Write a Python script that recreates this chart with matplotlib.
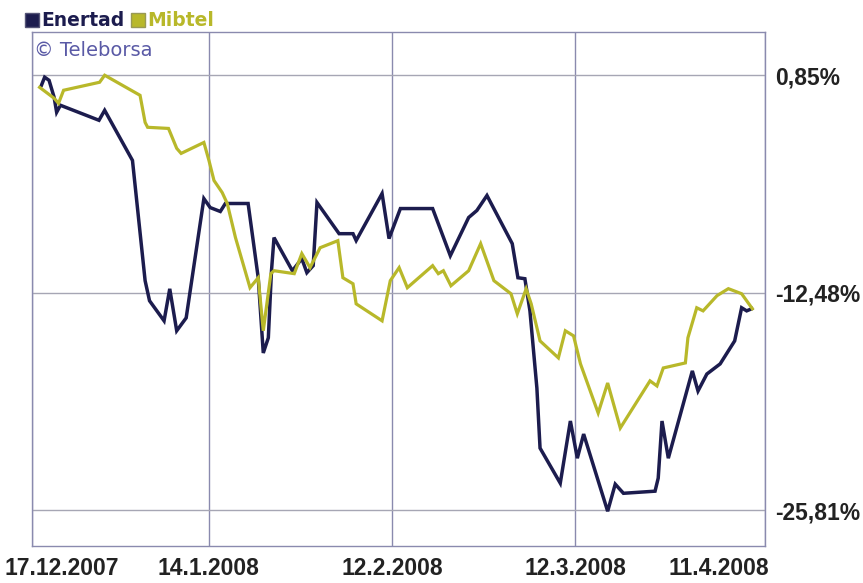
import pandas as pd
import matplotlib
matplotlib.use("Agg")
import matplotlib.pyplot as plt
import matplotlib.transforms as mtransforms
from matplotlib.lines import Line2D

START = pd.Timestamp("2007-12-17")

# day offsets from 17.12.2007 and % change
enertad_days = [1.5, 2.0, 2.7, 3.5, 3.9, 4.5, 10.6, 11.5, 15.9, 17.9, 18.6, 20.9, 21.8, 22.9,
                24.4, 27.2, 28.2, 29.8, 30.6, 34.2, 35.0, 35.8, 36.6, 37.4, 37.9, 38.3, 41.2,
                42.7, 43.5, 44.5, 45.1, 48.6, 50.8, 51.3, 55.4, 56.5, 58.3, 63.4, 66.2, 69.1,
                70.4, 72.0, 76.0, 76.9, 78.0, 78.8, 79.9, 80.4, 83.6, 85.2, 86.3, 87.3, 91.1,
                92.3, 93.6, 98.6, 99.1, 99.7, 100.7, 104.5, 105.4, 106.8, 108.9, 111.2, 112.3,
                113.1, 113.9]
enertad_pct = [0.24, 0.73, 0.54, -0.50, -1.42, -0.99, -1.91, -1.30, -4.37, -11.74, -12.97,
               -14.20, -12.24, -14.81, -14.02, -6.71, -7.26, -7.50, -7.01, -7.01, -9.28, -11.56,
               -16.17, -15.24, -11.13, -9.10, -11.13, -10.39, -11.25, -10.82, -6.95, -8.86,
               -8.86, -9.28, -6.40, -9.16, -7.32, -7.32, -10.21, -7.87, -7.44, -6.52, -9.47,
               -11.56, -11.62, -13.59, -18.32, -22.00, -24.15, -20.34, -22.62, -21.14, -25.87,
               -24.21, -24.77, -24.64, -23.84, -20.34, -22.62, -17.27, -18.50, -17.46, -16.84,
               -15.43, -13.40, -13.59, -13.46]

mibtel_days = [1.2, 3.5, 4.2, 5.0, 10.7, 11.5, 17.1, 17.9, 18.3, 21.6, 22.9, 23.6, 27.2, 28.0,
               28.8, 30.1, 30.9, 32.2, 34.5, 35.8, 36.6, 37.8, 38.3, 41.5, 42.7, 44.0, 45.6,
               48.4, 49.2, 50.8, 51.3, 55.4, 56.7, 58.1, 59.4, 63.4, 64.3, 65.1, 66.3, 69.1,
               71.0, 73.1, 75.8, 76.8, 78.2, 79.0, 80.4, 83.3, 84.4, 85.7, 86.8, 89.6, 91.1,
               93.1, 97.8, 98.9, 99.9, 103.4, 103.8, 105.2, 106.2, 108.4, 110.2, 112.3, 114.0]
mibtel_pct = [0.11, -0.56, -0.87, -0.07, 0.42, 0.85, -0.38, -2.04, -2.34, -2.41, -3.63, -3.94,
              -3.27, -4.37, -5.60, -6.34, -7.01, -9.10, -12.17, -11.56, -14.81, -11.31, -11.13,
              -11.31, -10.08, -10.94, -9.72, -9.29, -11.56, -11.93, -13.16, -14.20, -11.74,
              -10.94, -12.17, -10.82, -11.31, -11.13, -12.05, -11.13, -9.47, -11.74, -12.54,
              -13.77, -12.24, -13.16, -15.43, -16.47, -14.81, -15.12, -16.84, -19.85, -18.01,
              -20.77, -17.88, -18.19, -17.09, -16.78, -15.24, -13.40, -13.59, -12.66, -12.23,
              -12.54, -13.46]

tick_dates = ["2007-12-17", "2008-01-14", "2008-02-12", "2008-03-12", "2008-04-11"]
tick_labels = ["17.12.2007", "14.1.2008", "12.2.2008", "12.3.2008", "11.4.2008"]
level_vals = [0.85, -12.48, -25.81]
level_labels = ["0,85%", "-12,48%", "-25,81%"]

NAVY = "#1c1c4e"
OLIVE = "#b8b82a"
GRID = "#8a8aae"

fig = plt.figure(figsize=(8.63, 5.83), dpi=100)
ax = fig.add_axes([32 / 863, 1 - 546 / 583, (765 - 32) / 863, (546 - 32) / 583])

x_e = START + pd.to_timedelta(enertad_days, unit="D")
x_m = START + pd.to_timedelta(mibtel_days, unit="D")
ax.plot(x_e, enertad_pct, color=NAVY, lw=2.5, solid_joinstyle="miter")
ax.plot(x_m, mibtel_pct, color=OLIVE, lw=2.3, solid_joinstyle="miter")

ax.set_xlim(pd.Timestamp(tick_dates[0]), pd.Timestamp(tick_dates[-1]))
ax.set_ylim(-28.0, 3.5)

tick_font = dict(family="Liberation Sans", weight="bold", size=16.5, color="#222222")
ax.set_xticks(pd.to_datetime(tick_dates))
xl = ax.set_xticklabels(tick_labels, **tick_font)
ax.yaxis.tick_right()
ax.set_yticks(level_vals)
ax.set_yticklabels(level_labels, **tick_font)
ax.tick_params(axis="x", length=0, pad=8)
ax.tick_params(axis="y", length=0, pad=7)

# keep the end labels inside the picture
xl[0].set_ha("left")
xl[0].set_transform(xl[0].get_transform() + mtransforms.ScaledTranslation(-0.27, 0, fig.dpi_scale_trans))
xl[-1].set_ha("right")
xl[-1].set_transform(xl[-1].get_transform() + mtransforms.ScaledTranslation(0.04, 0, fig.dpi_scale_trans))

ax.grid(True, axis="x", color=GRID, lw=1)
ax.grid(True, axis="y", color="#a6a6b4", lw=1)
for sp in ax.spines.values():
    sp.set_color(GRID)
    sp.set_linewidth(1)

handles = [Line2D([], [], marker="s", ls="none", color=NAVY, ms=10, mec="#555577"),
           Line2D([], [], marker="s", ls="none", color=OLIVE, ms=10, mec="#999955")]
leg = ax.legend(handles, ["Enertad", "Mibtel"], loc="lower left", bbox_to_anchor=(-0.012, 1.0),
                ncol=2, frameon=False, handletextpad=0.15, columnspacing=0.4, borderpad=0,
                borderaxespad=0.1, handlelength=0.7,
                prop=dict(family="DejaVu Sans", weight="bold", size=13.5))
for t, c in zip(leg.get_texts(), [NAVY, OLIVE]):
    t.set_color(c)

ax.text(0.003, 0.983, "\u00a9 Teleborsa", transform=ax.transAxes, va="top", ha="left",
        color="#5a5aa6", fontsize=14, family="DejaVu Sans")

fig.savefig("out.png", dpi=100)
